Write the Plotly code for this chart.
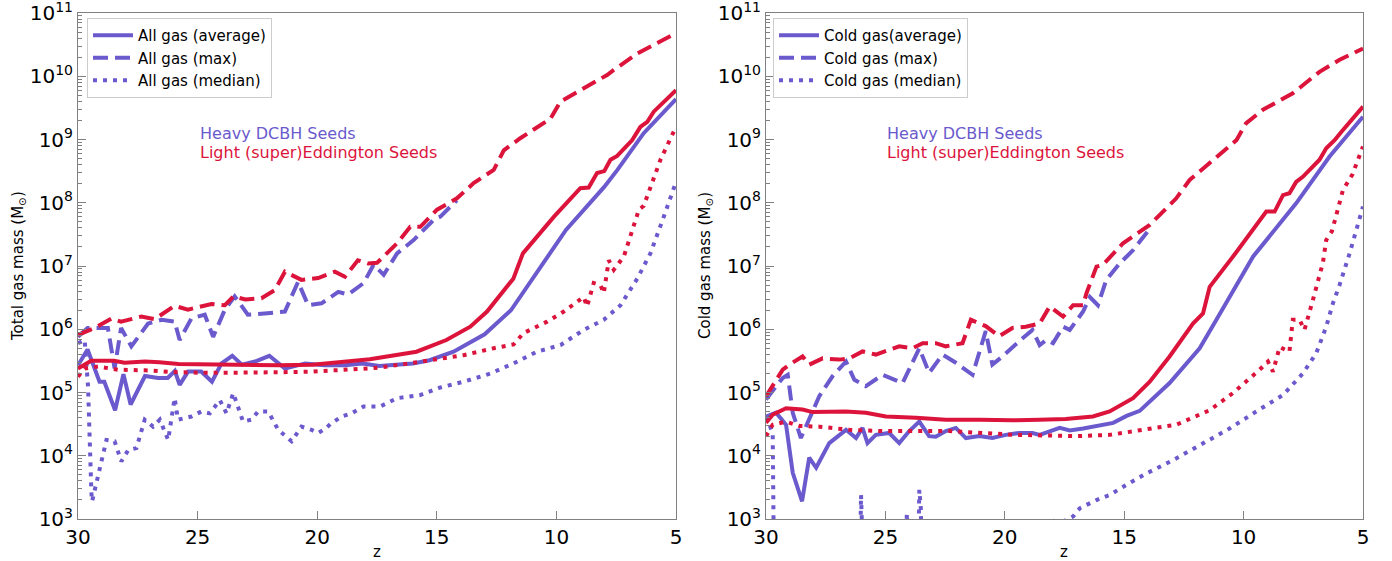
import numpy as np
import plotly.graph_objects as go

BLUE = "#6A5ACD"
RED = "#DC143C"

# ---------------- data (log10 of gas mass in Msun) ----------------
# Left panel: total gas
L_heavy_avg_z = [30, 29.6, 29.1, 28.9, 28.45, 28.1, 27.8, 27.2, 26.65, 26.25, 25.95, 25.75, 25.4, 24.85, 24.4, 24.0,
                 23.55, 23.15, 22.6, 22.0, 21.35, 20.5, 19.7, 18.85, 18.1, 17.4, 16.0, 15.3, 14.3, 13.0, 11.9, 11.1,
                 9.6, 8.0, 7.45, 6.35, 5.0]
L_heavy_avg = [5.43, 5.68, 5.17, 5.17, 4.72, 5.29, 4.81, 5.26, 5.23, 5.23, 5.34, 5.12, 5.33, 5.33, 5.17, 5.46,
               5.58, 5.44, 5.49, 5.58, 5.38, 5.46, 5.43, 5.43, 5.46, 5.42, 5.46, 5.51, 5.645, 5.92, 6.30, 6.74,
               7.57, 8.25, 8.52, 9.10, 9.64]

L_light_avg_z = [30, 29.45, 28.5, 28.05, 27.2, 26.6, 25.8, 24.4, 23.0, 21.6, 20.2, 18.85, 17.8, 15.85, 14.6, 13.6,
                 12.9, 11.8, 11.4, 10.1, 9.0, 8.65, 8.3, 8.0, 7.74, 7.46, 6.83, 6.49, 6.2, 5.93, 5.5, 5.0]
L_light_avg = [5.38, 5.50, 5.50, 5.47, 5.49, 5.48, 5.45, 5.44, 5.43, 5.43, 5.44, 5.48, 5.525, 5.645, 5.83, 6.04,
               6.28, 6.80, 7.20, 7.78, 8.23, 8.24, 8.47, 8.50, 8.68, 8.74, 8.99, 9.20, 9.28, 9.44, 9.60, 9.78]

L_light_max_z = [30, 29.3, 28.6, 28.2, 27.35, 26.8, 25.96, 25.4, 24.42, 23.86, 23.5, 23.0, 22.33, 21.77, 21.35,
                 20.66, 19.96, 19.26, 18.84, 18.3, 17.87, 17.5, 16.66, 16.11, 15.69, 14.99, 14.16, 13.46, 12.62,
                 12.2, 11.51, 10.25, 9.83, 8.86, 7.88, 7.6, 6.62, 5.0]
L_light_max = [5.91, 6.02, 6.17, 6.12, 6.20, 6.16, 6.37, 6.31, 6.40, 6.38, 6.52, 6.47, 6.49, 6.62, 6.91,
               6.78, 6.81, 6.91, 6.83, 7.09, 7.04, 7.05, 7.36, 7.62, 7.62, 7.89, 8.07, 8.31, 8.52,
               8.83, 9.02, 9.33, 9.60, 9.81, 10.02, 10.10, 10.36, 10.68]

L_heavy_max_z = [30, 29.6, 28.75, 28.47, 28.2, 27.77, 27.07, 26.5, 25.96, 25.75, 25.26, 24.7, 24.35, 23.86, 23.45,
                 22.9, 22.2, 21.35, 20.8, 20.38, 19.82, 19.12, 18.7, 18.06, 17.64, 17.22, 16.66, 15.97, 15.13,
                 14.85, 14.16]
L_heavy_max = [5.88, 6.02, 6.02, 5.38, 6.02, 5.73, 6.09, 6.15, 6.12, 5.83, 6.17, 6.23, 5.88, 6.31, 6.52,
               6.23, 6.25, 6.28, 6.75, 6.38, 6.41, 6.59, 6.55, 6.73, 7.02, 6.86, 7.20, 7.41, 7.73,
               7.78, 8.04]

L_heavy_med_z = [30, 29.72, 29.58, 29.51, 29.44, 29.41, 29.23, 29.02, 28.81, 28.47, 28.19, 27.9, 27.56, 27.21,
                 26.86, 26.58, 26.23, 25.96, 25.82, 25.26, 24.84, 24.49, 24.07, 23.79, 23.51, 23.1, 22.75,
                 22.47, 22.05, 21.63, 21.07, 20.66, 20.24, 19.96, 19.61, 19.46, 18.98, 18.56, 18.06, 17.36,
                 16.66, 15.69, 14.85, 13.88, 12.76, 11.79, 10.81, 9.83, 8.86, 8.02, 7.32, 6.62, 6.07, 5.51, 5.0]
L_heavy_med = [5.78, 5.83, 5.09, 4.09, 3.41, 3.28, 3.57, 3.94, 4.25, 4.23, 3.91, 4.09, 4.12, 4.57,
               4.46, 4.57, 4.25, 4.91, 4.57, 4.62, 4.70, 4.67, 4.88, 4.67, 4.99, 4.54, 4.57,
               4.70, 4.70, 4.41, 4.23, 4.46, 4.41, 4.36, 4.44, 4.50, 4.62, 4.67, 4.78, 4.78,
               4.91, 4.96, 5.08, 5.17, 5.30, 5.46, 5.645, 5.75, 5.99, 6.15, 6.38, 6.80, 7.20, 7.78, 8.33]

L_light_med_z = [30, 29.72, 29.16, 28.33, 27.2, 25.82, 24.42, 23.0, 21.63, 20.24, 18.84, 17.45, 15.27, 13.88,
                 12.62, 11.79, 11.37, 10.39, 9.69, 9.13, 8.86, 8.72, 8.44, 8.16, 8.02, 7.81, 7.6, 7.18, 6.76,
                 6.55, 6.35, 6.07, 5.65, 5.0]
L_light_med = [5.25, 5.38, 5.41, 5.36, 5.35, 5.32, 5.31, 5.31, 5.32, 5.33, 5.36, 5.39, 5.51, 5.59,
               5.70, 5.76, 5.94, 6.12, 6.28, 6.44, 6.51, 6.36, 6.73, 6.70, 6.57, 7.09, 6.94, 7.15, 7.62,
               7.89, 7.95, 8.25, 8.68, 9.20]

# Right panel: cold gas
R_heavy_avg_z = [30, 29.58, 29.16, 28.88, 28.49, 28.19, 27.9, 27.35, 26.65, 26.23, 25.96, 25.75, 25.4, 24.84,
                 24.42, 24.0, 23.58, 23.17, 22.89, 22.47, 22.05, 21.63, 21.07, 20.52, 19.96, 19.4, 18.84,
                 18.54, 17.7, 17.28, 16.72, 15.46, 14.9, 14.35, 13.1, 11.84, 11.14, 10.17, 9.6, 7.8, 6.4, 5.0]
R_heavy_avg = [4.62, 4.68, 4.49, 3.73, 3.28, 3.97, 3.81, 4.20, 4.41, 4.28, 4.44, 4.20, 4.33, 4.36,
               4.20, 4.39, 4.54, 4.31, 4.30, 4.39, 4.44, 4.28, 4.31, 4.28, 4.33, 4.36, 4.36,
               4.33, 4.44, 4.40, 4.43, 4.52, 4.63, 4.71, 5.15, 5.70, 6.15, 6.78, 7.15, 7.99, 8.73, 9.36]

R_light_avg_z = [30, 29.72, 29.16, 28.47, 28.05, 26.65, 25.82, 24.98, 23.72, 22.47, 21.07, 19.68, 18.56, 17.45,
                 16.31, 15.61, 14.63, 13.93, 13.1, 12.12, 11.7, 11.42, 10.3, 9.33, 9.05, 8.7, 8.35, 8.08, 7.8,
                 7.52, 6.82, 6.54, 6.19, 5.91, 5.0]
R_light_avg = [4.52, 4.65, 4.75, 4.73, 4.69, 4.70, 4.68, 4.62, 4.60, 4.57, 4.57, 4.56, 4.57, 4.58,
               4.62, 4.70, 4.91, 5.17, 5.57, 6.09, 6.25, 6.67, 7.22, 7.73, 7.86, 7.86, 8.12, 8.15, 8.33,
               8.41, 8.68, 8.86, 8.99, 9.12, 9.52]

R_light_max_z = [30, 29.72, 29.3, 29.02, 28.47, 28.19, 27.63, 26.93, 26.51, 25.96, 25.4, 24.42, 23.86, 23.44,
                 22.89, 22.47, 21.77, 21.42, 20.8, 20.24, 19.68, 19.12, 18.54, 18.12, 17.56, 17.14, 16.72,
                 16.58, 16.16, 15.89, 15.05, 13.93, 12.82, 12.26, 11.7, 10.3, 9.89, 9.19, 7.94, 6.82, 5.98, 5.0]
R_light_max = [4.94, 5.10, 5.36, 5.44, 5.57, 5.44, 5.54, 5.52, 5.54, 5.65, 5.60, 5.73, 5.70, 5.78,
               5.78, 5.73, 5.78, 6.15, 6.05, 5.89, 6.02, 6.04, 6.09, 6.36, 6.20, 6.38, 6.38,
               6.57, 6.99, 7.02, 7.36, 7.65, 8.07, 8.36, 8.54, 8.99, 9.26, 9.47, 9.73, 10.07, 10.26, 10.44]

R_heavy_max_z = [30, 29.3, 29.09, 28.88, 28.54, 28.19, 27.77, 27.21, 26.65, 26.3, 25.82, 25.12, 24.28, 23.58,
                 23.17, 22.61, 22.05, 21.35, 20.8, 20.52, 20.1, 19.4, 18.84, 18.54, 18.26, 17.98, 17.56, 17.28,
                 16.72, 16.44, 16.1, 15.75, 15.19, 14.63, 13.86]
R_heavy_max = [4.89, 5.23, 5.28, 4.68, 4.28, 4.57, 4.94, 5.26, 5.49, 5.20, 5.10, 5.28, 5.15, 5.70,
               5.31, 5.60, 5.47, 5.28, 5.97, 5.44, 5.57, 5.81, 5.99, 5.75, 5.83, 5.78, 6.04, 5.99,
               6.28, 6.51, 6.38, 6.78, 7.04, 7.25, 7.62]

R_heavy_med_z = [30, 29.72, 29.66, 26.08, 26.02, 25.95, 24.16, 24.1, 24.04, 23.62, 23.58, 23.52, 23.48, 18.4,
                 18.12, 17.6, 17.14, 16.86, 16.16, 15.61, 14.91, 14.07, 12.96, 11.7, 10.59, 9.47, 8.35, 7.52,
                 6.96, 6.54, 6.26, 5.98, 5.56, 5.0]
R_heavy_med = [4.62, 4.36, 2.0, 2.0, 3.38, 2.5, 2.5, 3.09, 2.5, 2.5, 3.46, 3.2, 2.5, 2.5,
               2.98, 2.95, 3.04, 3.17, 3.30, 3.38, 3.54, 3.72, 3.93, 4.20, 4.43, 4.70, 4.96, 5.30,
               5.62, 6.04, 6.41, 6.70, 7.20, 7.94]

R_light_med_z = [30, 29.72, 29.16, 28.6, 27.77, 26.51, 25.12, 23.72, 22.33, 20.94, 19.54, 18.15, 17.0, 15.61,
                 14.21, 12.82, 11.42, 10.45, 9.33, 8.98, 8.77, 8.49, 8.08, 7.94, 7.66, 7.45, 7.1, 6.68, 6.54,
                 6.3, 5.84, 5.44, 5.0]
R_light_med = [4.31, 4.49, 4.54, 4.47, 4.46, 4.41, 4.39, 4.39, 4.39, 4.36, 4.33, 4.32, 4.31, 4.33,
               4.41, 4.49, 4.72, 4.99, 5.36, 5.49, 5.33, 5.72, 5.645, 6.15, 6.15, 5.99, 6.46, 7.05, 7.41,
               7.55, 8.20, 8.45, 8.89]

LEFT_LABELS = ["All gas (average)", "All gas (max)", "All gas (median)"]
RIGHT_LABELS = ["Cold gas(average)", "Cold gas (max)", "Cold gas (median)"]
Y_TICKS = [3, 4, 5, 6, 7, 8, 9, 10, 11]
X_TICKS = [30, 25, 20, 15, 10, 5]

# ---------------- figure ----------------
W, H = 1392, 561
FONT = "DejaVu Sans"
DASH = {"solid": "solid", "dash": "15px,7px", "dot": "4px,6px"}
LW = 4

fig = go.Figure()


def add(z, logm, color, dash, xa, ya, name=None, legend=None):
    fig.add_trace(go.Scatter(
        x=z, y=10 ** np.array(logm), mode="lines", xaxis=xa, yaxis=ya,
        line=dict(color=color, width=LW, dash=DASH[dash]),
        name=name or "", showlegend=name is not None, legend=legend,
        hoverinfo="skip"))


# left panel (blue first, red on top)
add(L_heavy_avg_z, L_heavy_avg, BLUE, "solid", "x", "y", LEFT_LABELS[0], "legend")
add(L_heavy_max_z, L_heavy_max, BLUE, "dash", "x", "y", LEFT_LABELS[1], "legend")
add(L_heavy_med_z, L_heavy_med, BLUE, "dot", "x", "y", LEFT_LABELS[2], "legend")
add(L_light_avg_z, L_light_avg, RED, "solid", "x", "y")
add(L_light_max_z, L_light_max, RED, "dash", "x", "y")
add(L_light_med_z, L_light_med, RED, "dot", "x", "y")
# right panel
add(R_heavy_avg_z, R_heavy_avg, BLUE, "solid", "x2", "y2", RIGHT_LABELS[0], "legend2")
add(R_heavy_max_z, R_heavy_max, BLUE, "dash", "x2", "y2", RIGHT_LABELS[1], "legend2")
add(R_heavy_med_z, R_heavy_med, BLUE, "dot", "x2", "y2", RIGHT_LABELS[2], "legend2")
add(R_light_avg_z, R_light_avg, RED, "solid", "x2", "y2")
add(R_light_max_z, R_light_max, RED, "dash", "x2", "y2")
add(R_light_med_z, R_light_med, RED, "dot", "x2", "y2")

AX_COLOR = "#808080"
minor_vals = [m * 10 ** k for k in range(3, 11) for m in range(2, 10)]


def xaxis(dom, anchor):
    return dict(domain=dom, anchor=anchor, range=[30, 5], tickvals=X_TICKS,
                ticktext=[str(v) for v in X_TICKS], ticks="inside", ticklen=8, tickwidth=1,
                tickcolor=AX_COLOR, showline=True, linecolor=AX_COLOR, linewidth=1, mirror=True,
                showgrid=False, zeroline=False, automargin=False, ticklabeloverflow="allow",
                tickfont=dict(family=FONT, size=20, color="black"))


def yaxis(anchor):
    return dict(domain=[(H - 519) / H, (H - 13) / H], anchor=anchor, type="log", range=[2.9999, 11.0001],
                tickvals=[10 ** v for v in Y_TICKS], ticktext=["10<sup>%d</sup>" % v for v in Y_TICKS],
                ticks="inside", ticklen=8, tickwidth=1, tickcolor=AX_COLOR,
                minor=dict(tickvals=minor_vals, ticks="inside", ticklen=4, tickcolor=AX_COLOR,
                           showgrid=False),
                showline=True, linecolor=AX_COLOR, linewidth=1, mirror=True, showgrid=False,
                zeroline=False, automargin=False, ticklabeloverflow="allow",
                tickfont=dict(family=FONT, size=20, color="black"))


legend_common = dict(bgcolor="rgba(255,255,255,0.85)", bordercolor="#cccccc", borderwidth=1,
                     font=dict(family=FONT, size=15, color="black"), xanchor="left", yanchor="top",
                     tracegroupgap=0, itemwidth=40)

fig.update_layout(
    width=W, height=H, margin=dict(l=0, r=0, t=0, b=0, autoexpand=False),
    paper_bgcolor="white", plot_bgcolor="white",
    font=dict(family=FONT, color="black"),
    xaxis=xaxis([78 / W, 676 / W], "y"),
    yaxis=yaxis("x"),
    xaxis2=xaxis([766 / W, 1363 / W], "y2"),
    yaxis2=yaxis("x2"),
    legend=dict(x=87 / W, y=1 - 18 / H, **legend_common),
    legend2=dict(x=773 / W, y=1 - 18 / H, **legend_common),
)

ann = []
for xr, yr in (("x", "y"), ("x2", "y2")):
    ann.append(dict(x=25.0, y=9.09, xref=xr, yref=yr, text="Heavy DCBH Seeds", showarrow=False,
                    xanchor="left", yanchor="middle", font=dict(family=FONT, size=16, color=BLUE)))
    ann.append(dict(x=25.0, y=8.79, xref=xr, yref=yr, text="Light (super)Eddington Seeds", showarrow=False,
                    xanchor="left", yanchor="middle", font=dict(family=FONT, size=16, color=RED)))
# axis titles
for xc in (377, 1064):
    ann.append(dict(x=xc / W, y=1 - 552 / H, xref="paper", yref="paper", text="z", showarrow=False,
                    xanchor="center", yanchor="middle", font=dict(family=FONT, size=15, color="black")))
for xc, t in ((18, "Total gas mass (M<sub>⊙</sub>)"), (705, "Cold gas mass (M<sub>⊙</sub>)")):
    ann.append(dict(x=xc / W, y=1 - 266 / H, xref="paper", yref="paper", text=t, showarrow=False,
                    textangle=-90, xanchor="center", yanchor="middle",
                    font=dict(family=FONT, size=15, color="black")))
fig.update_layout(annotations=ann)

fig.write_html("out.html")
